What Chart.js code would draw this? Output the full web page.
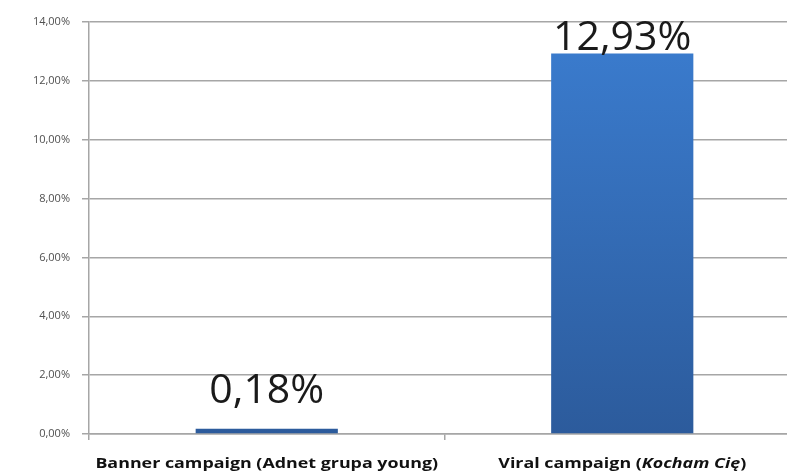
<!DOCTYPE html>
<html lang="pl">
<head>
  <meta charset="utf-8" />
  <title>Campaign comparison</title>
  <script src="https://cdn.jsdelivr.net/npm/chart.js"></script>
  <style>
    html, body { margin: 0; padding: 0; background: #fff; overflow: hidden; }
    #wrap { width: 800px; height: 471px; }
  </style>
</head>
<body>
  <div id="wrap"><canvas id="chart" width="800" height="471"></canvas></div>

  <script>
    // data
    const categories = ['Banner campaign (Adnet grupa young)', 'Viral campaign (Kocham Cię)'];
    const italicParts = ['', 'Kocham Cię'];
    const values = [0.18, 12.93];
    const yTicks = [0, 2, 4, 6, 8, 10, 12, 14];

    const pct = v => v.toFixed(2).replace('.', ',') + '%';

    // x labels drawn by hand so part of the text can be italic
    // (the source picture is a bit stretched sideways, hence the scale)
    const xLabels = {
      id: 'xLabels',
      afterDraw(chart) {
        const ctx = chart.ctx;
        const x = chart.scales.x;
        const sx = 1.19;
        ctx.save();
        ctx.fillStyle = '#111';
        ctx.textBaseline = 'middle';
        ctx.textAlign = 'left';
        categories.forEach((label, i) => {
          const it = italicParts[i];
          let parts = [[label, false]];
          if (it && label.includes(it)) {
            const k = label.indexOf(it);
            parts = [[label.slice(0, k), false], [it, true], [label.slice(k + it.length), false]];
          }
          const fontOf = p => (p[1] ? 'italic ' : '') + 'bold 15px "Open Sans"';
          let total = 0;
          parts.forEach(p => {
            ctx.font = fontOf(p);
            total += ctx.measureText(p[0]).width;
          });
          ctx.save();
          ctx.translate(x.getPixelForValue(i) - total * sx / 2, 464);
          ctx.scale(sx, 1);
          let cx = 0;
          parts.forEach(p => {
            ctx.font = fontOf(p);
            ctx.fillText(p[0], cx, 0);
            cx += ctx.measureText(p[0]).width;
          });
          ctx.restore();
        });
        ctx.restore();
      }
    };

    const valueLabels = {
      id: 'valueLabels',
      afterDatasetsDraw(chart) {
        const ctx = chart.ctx;
        const meta = chart.getDatasetMeta(0);
        ctx.save();
        ctx.font = '41px "Open Sans"';
        ctx.fillStyle = '#1a1a1a';
        ctx.textAlign = 'center';
        ctx.textBaseline = 'alphabetic';
        meta.data.forEach((bar, i) => {
          const y = Math.max(bar.y - 26, chart.chartArea.top + 28);
          ctx.fillText(pct(values[i]), bar.x, y);
        });
        ctx.restore();
      }
    };

    new Chart(document.getElementById('chart'), {
      type: 'bar',
      data: {
        labels: categories,
        datasets: [{
          data: values,
          backgroundColor: (c) => {
            const area = c.chart.chartArea;
            if (!area) return '#3a78c8';
            const g = c.chart.ctx.createLinearGradient(0, area.top, 0, area.bottom);
            g.addColorStop(0, '#3b7dd0');
            g.addColorStop(1, '#2c5b9c');
            return g;
          },
          borderWidth: 0,
          categoryPercentage: 1,
          barPercentage: 0.4
        }]
      },
      options: {
        responsive: false,
        animation: false,
        layout: { padding: { top: 22, left: 0, right: 0, bottom: 0 } },
        plugins: { legend: { display: false }, tooltip: { enabled: false } },
        scales: {
          x: {
            offset: true,
            afterFit: (s) => { s.height = 37; },
            ticks: { display: false },
            grid: { offset: true, drawOnChartArea: false, drawTicks: true, tickLength: 6, color: '#a6a6a6', lineWidth: 1.5 },
            border: { color: '#a6a6a6', width: 1.5 }
          },
          y: {
            min: 0,
            max: 14,
            afterFit: (s) => { s.width = 89; },
            afterBuildTicks: (s) => { s.ticks = yTicks.map(v => ({ value: v })); },
            ticks: {
              padding: 12,
              color: '#505050',
              font: { family: '"Open Sans"', size: 11 },
              callback: (v) => pct(v)
            },
            grid: { color: '#a6a6a6', lineWidth: 1.5, tickLength: 7 },
            border: { color: '#a6a6a6', width: 1.5 }
          }
        }
      },
      plugins: [xLabels, valueLabels]
    });
  </script>
</body>
</html>
